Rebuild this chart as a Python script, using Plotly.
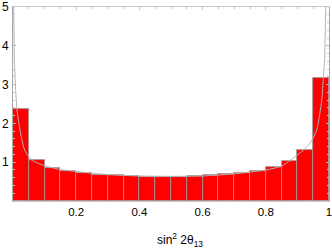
import plotly.graph_objects as go

# Histogram of sin^2 2theta13, 20 bins over [0, 1]
bin_left = [0.00, 0.05, 0.10, 0.15, 0.20, 0.25, 0.30, 0.35, 0.40, 0.45,
            0.50, 0.55, 0.60, 0.65, 0.70, 0.75, 0.80, 0.85, 0.90, 0.95]
bin_width = 0.05
bin_height = [2.37, 1.06, 0.86, 0.77, 0.71, 0.67, 0.66, 0.64, 0.63, 0.63,
              0.63, 0.64, 0.66, 0.69, 0.72, 0.77, 0.87, 1.03, 1.32, 3.18]

# Overlaid gray curve
curve_x = [0.000, 0.002, 0.0054, 0.0127, 0.025, 0.037, 0.058, 0.10, 0.15, 0.20,
           0.30, 0.40, 0.50, 0.60, 0.70, 0.80, 0.85, 0.892, 0.919, 0.94,
           0.961, 0.977, 0.982, 0.986, 0.9896, 0.991]
curve_y = [5.6, 5.0, 3.38, 2.35, 1.70, 1.31, 1.06, 0.91, 0.81, 0.76,
           0.68, 0.645, 0.635, 0.645, 0.70, 0.80, 0.90, 1.14, 1.31, 1.49,
           1.83, 2.60, 3.18, 3.63, 5.0, 5.6]

x_tickvals = [0.2, 0.4, 0.6, 0.8, 1.0]
x_ticktext = ["0.2", "0.4", "0.6", "0.8", "1"]
y_tickvals = [1, 2, 3, 4, 5]
y_ticktext = ["1", "2", "3", "4", "5"]

centers = [b + bin_width / 2 for b in bin_left]

fig = go.Figure()
fig.add_trace(go.Bar(
    x=centers, y=bin_height, width=bin_width,
    marker=dict(color="#ff0000", line=dict(color="#9a9a9a", width=0.8)),
    showlegend=False, hoverinfo="skip",
))
fig.add_trace(go.Scatter(
    x=curve_x, y=curve_y, mode="lines",
    line=dict(color="#b4b4b4", width=1, shape="spline", smoothing=0.6),
    showlegend=False, hoverinfo="skip", cliponaxis=True,
))

fig.update_layout(
    width=332, height=250,
    margin=dict(l=13, r=3, t=7, b=49, autoexpand=False),
    paper_bgcolor="white", plot_bgcolor="white",
    bargap=0,
    font=dict(family="Liberation Sans, Arial, sans-serif", size=12, color="black"),
    xaxis=dict(
        range=[0, 1], tickvals=x_tickvals, ticktext=x_ticktext,
        automargin=False, ticklabeloverflow="allow",
        showgrid=False, zeroline=False,
        showline=True, linecolor="#c8c8c8", linewidth=1,
        mirror="ticks", ticks="inside", ticklen=3, tickcolor="#c8c8c8",
        minor=dict(dtick=0.05, ticks="inside", ticklen=2, tickcolor="#c8c8c8"),
        layer="below traces",
        tickfont=dict(size=11.5),
    ),
    yaxis=dict(
        range=[0, 5], tickvals=y_tickvals, ticktext=y_ticktext,
        automargin=False, ticklabeloverflow="allow",
        showgrid=False, zeroline=False,
        showline=True, linecolor="#a8a8a8", linewidth=1,
        mirror="ticks", ticks="inside", ticklen=3, tickcolor="#b8b8b8",
        minor=dict(dtick=0.2, ticks="inside", ticklen=2, tickcolor="#c8c8c8"),
        tickfont=dict(size=12), ticklabelstandoff=1,
    ),
    annotations=[dict(
        text="sin<sup>2</sup> 2θ<sub>13</sub>", xref="paper", yref="paper",
        x=0.53, y=-0.145, xanchor="center", yanchor="top", showarrow=False,
        font=dict(size=12),
    )],
)

fig.write_html("out.html", config={"displayModeBar": False},
               post_script="document.body.style.margin='0';")
